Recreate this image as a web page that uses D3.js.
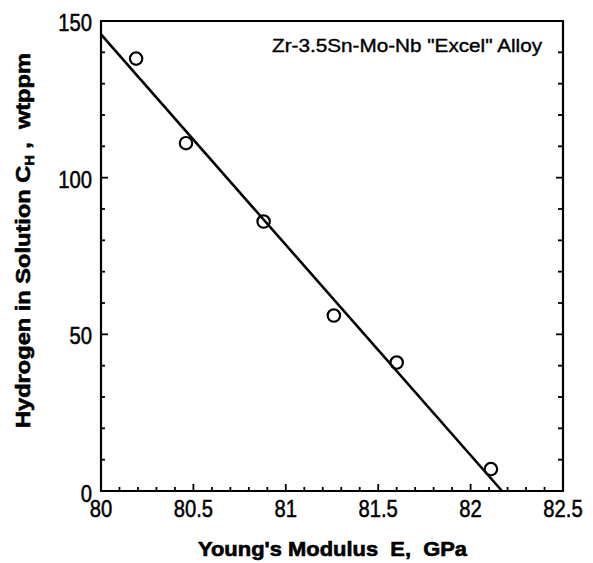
<!DOCTYPE html>
<html>
<head>
<meta charset="utf-8">
<script src="https://cdn.jsdelivr.net/npm/d3@7"></script>
<style>
  html, body { margin: 0; padding: 0; background: #fff; }
  svg { display: block; }
  text { font-family: "Liberation Sans", Arial, Helvetica, sans-serif; fill: #000; }
</style>
</head>
<body>
<svg id="chart" width="593" height="563"></svg>
<script>
// Data
const modulusE = [80.19, 80.46, 80.88, 81.26, 81.60, 82.11];   // GPa
const hydrogenCH = [138, 111, 86, 56, 41, 7];                   // wtppm
// Fitted straight line (two end points)
const fitE = [80.0, 82.17];
const fitCH = [145.7, 0];
// Axis ticks
const xMajorTicks = [80, 80.5, 81, 81.5, 82, 82.5];
const xTickLabels = ["80", "80.5", "81", "81.5", "82", "82.5"];
const yMajorTicks = [0, 50, 100, 150];
const yTickLabels = ["0", "50", "100", "150"];
const titleText = "Zr-3.5Sn-Mo-Nb \"Excel\" Alloy";

const W = 593, H = 563;
const m = { left: 101, top: 21, right: 30, bottom: 72 };
const svg = d3.select("#chart");

const x = d3.scaleLinear().domain([80, 82.5]).range([m.left, W - m.right]);
const y = d3.scaleLinear().domain([0, 150]).range([H - m.bottom, m.top]);

const x0 = x.range()[0], x1 = x.range()[1];
const y0 = y.range()[0], y1 = y.range()[1];

// Frame
svg.append("path")
  .attr("d", `M${x0},${y0}V${y1}H${x1}V${y0}Z`)
  .attr("fill", "none").attr("stroke", "#000").attr("stroke-width", 2.2);

// X minor/major ticks (bottom, inward)
const xMinor = d3.range(80, 82.5001, 0.1);
svg.append("g").selectAll("line").data(xMinor).join("line")
  .attr("x1", d => x(d)).attr("x2", d => x(d))
  .attr("y1", y0).attr("y2", (d, i) => y0 - (i % 5 === 0 ? 7 : 4))
  .attr("stroke", "#000").attr("stroke-width", 1.8);

// Y minor/major ticks (left and right, inward)
const yMinor = d3.range(0, 150.001, 10);
svg.append("g").selectAll("line").data(yMinor).join("line")
  .attr("x1", x0).attr("x2", (d) => x0 + (d % 50 === 0 ? 7 : 4))
  .attr("y1", d => y(d)).attr("y2", d => y(d))
  .attr("stroke", "#000").attr("stroke-width", 1.8);
svg.append("g").selectAll("line").data(yMinor).join("line")
  .attr("x1", x1).attr("x2", (d) => x1 - (d % 50 === 0 ? 7 : 5))
  .attr("y1", d => y(d)).attr("y2", d => y(d))
  .attr("stroke", "#000").attr("stroke-width", 1.8);

// X tick labels
svg.append("g").selectAll("text").data(xMajorTicks).join("text")
  .attr("x", d => x(d)).attr("y", y0 + 26)
  .attr("text-anchor", "middle")
  .attr("font-size", 23)
  .attr("stroke", "#000").attr("stroke-width", 0.5)
  .attr("transform", d => `translate(${x(d)},0) scale(0.88,1) translate(${-x(d)},0)`)
  .text((d, i) => xTickLabels[i]);

// Y tick labels
svg.append("g").selectAll("text").data(yMajorTicks).join("text")
  .attr("x", x0 - 9).attr("y", d => y(d) + (d === 0 ? 11 : 10))
  .attr("text-anchor", "end")
  .attr("font-size", 23)
  .attr("stroke", "#000").attr("stroke-width", 0.5)
  .attr("transform", d => `translate(${x0 - 9},0) scale(0.88,1) translate(${-(x0 - 9)},0)`)
  .text((d, i) => yTickLabels[i]);

// Fit line
svg.append("line")
  .attr("x1", x(fitE[0])).attr("y1", y(fitCH[0]))
  .attr("x2", x(fitE[1])).attr("y2", y(fitCH[1]))
  .attr("stroke", "#000").attr("stroke-width", 2.6);

// Data points
svg.append("g").selectAll("circle").data(modulusE).join("circle")
  .attr("cx", d => x(d)).attr("cy", (d, i) => y(hydrogenCH[i]))
  .attr("r", 6.2)
  .attr("fill", "none").attr("stroke", "#000").attr("stroke-width", 2.2);

// Title inside plot
svg.append("text")
  .attr("x", 272).attr("y", 52)
  .attr("font-size", 19)
  .attr("stroke", "#000").attr("stroke-width", 0.4)
  .attr("textLength", 270).attr("lengthAdjust", "spacingAndGlyphs")
  .text(titleText);

// X axis title
svg.append("text")
  .attr("x", 198).attr("y", 556)
  .attr("font-size", 20).attr("font-weight", "bold")
  .attr("stroke", "#000").attr("stroke-width", 0.6)
  .attr("textLength", 269).attr("lengthAdjust", "spacingAndGlyphs")
  .attr("xml:space", "preserve")
  .text("Young's Modulus  E,  GPa");

// Y axis title (rotated)
const yt = svg.append("text")
  .attr("transform", "translate(30,428) rotate(-90)")
  .attr("font-size", 20).attr("font-weight", "bold")
  .attr("stroke", "#000").attr("stroke-width", 0.6)
  .attr("textLength", 375).attr("lengthAdjust", "spacingAndGlyphs")
  .attr("xml:space", "preserve");
yt.append("tspan").text("Hydrogen in Solution C");
yt.append("tspan").attr("font-size", 12).attr("dy", 4).text("H");
yt.append("tspan").attr("dy", -4).text(" ,  wtppm");
</script>
</body>
</html>
